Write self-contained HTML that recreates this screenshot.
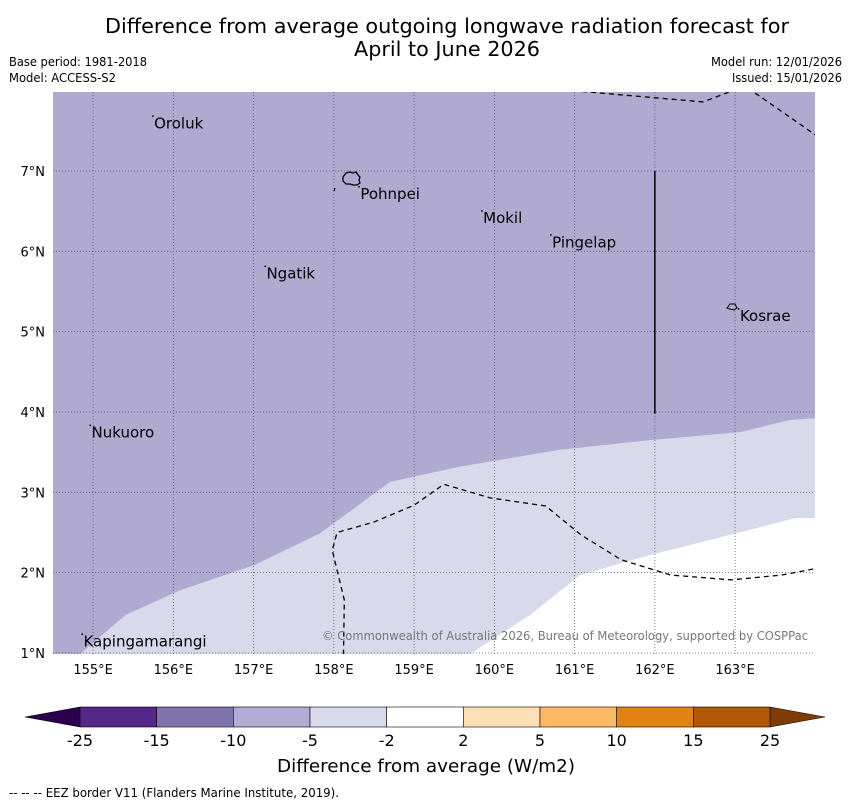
<!DOCTYPE html>
<html><head><meta charset="utf-8"><style>
html,body{margin:0;padding:0;background:#fff;}
svg{display:block;font-family:"DejaVu Sans","Liberation Sans",sans-serif;}
</style></head><body>
<svg id="chart" width="850" height="804" viewBox="0 0 850 804" xmlns="http://www.w3.org/2000/svg">
<text x="447" y="33" font-size="20" text-anchor="middle" textLength="684" lengthAdjust="spacingAndGlyphs">Difference from average outgoing longwave radiation forecast for</text>
<text x="447" y="56" font-size="20" text-anchor="middle" textLength="186" lengthAdjust="spacingAndGlyphs">April to June 2026</text>
<text x="9" y="66" font-size="12" textLength="138" lengthAdjust="spacingAndGlyphs">Base period: 1981-2018</text>
<text x="9" y="82" font-size="12" textLength="107" lengthAdjust="spacingAndGlyphs">Model: ACCESS-S2</text>
<text x="842" y="66" font-size="12" text-anchor="end" textLength="131" lengthAdjust="spacingAndGlyphs">Model run: 12/01/2026</text>
<text x="842" y="82" font-size="12" text-anchor="end" textLength="110" lengthAdjust="spacingAndGlyphs">Issued: 15/01/2026</text>
<defs><clipPath id="mapclip"><rect x="53" y="92" width="762" height="562"/></clipPath></defs>
<g id="map" clip-path="url(#mapclip)"></g>
<g id="axes"></g>
<g id="cbar"></g>
<text x="426" y="772" font-size="18" text-anchor="middle" textLength="298" lengthAdjust="spacingAndGlyphs">Difference from average (W/m2)</text>
<text x="9" y="797" font-size="12" textLength="330" lengthAdjust="spacingAndGlyphs">--  --  -- EEZ border V11 (Flanders Marine Institute, 2019).</text>
</svg>
<script>
const lonTicks=[155,156,157,158,159,160,161,162,163];
const latTicks=[1,2,3,4,5,6,7];
const cbarLevels=[-25,-15,-10,-5,-2,2,5,10,15,25];
const cbarColors=["#542788","#8073ac","#b2abd2","#d8daeb","#ffffff","#fee0b6","#fdb863","#e08214","#b35806"];
const lightBoundaryLon=[154.84,155.4,156.08,157.02,157.83,158.7,159.57,160.82,161.94,163.06,163.68,164.1];
const lightBoundaryLat=[0.99,1.47,1.78,2.1,2.49,3.13,3.32,3.53,3.65,3.75,3.9,3.93];
const whiteBoundaryLon=[159.7,160.44,161.07,161.94,162.94,163.75,164.1];
const whiteBoundaryLat=[0.99,1.47,1.97,2.22,2.47,2.68,2.68];
const eezSouthLon=[158.12,158.13,157.98,158.04,158.5,159,159.37,159.95,160.64,161.08,161.58,162.2,162.95,163.58,164.05];
const eezSouthLat=[0.98,1.66,2.28,2.5,2.63,2.84,3.1,2.93,2.83,2.47,2.16,1.97,1.91,1.97,2.06];
const eezNorthLon=[160.98,162.6,163.05];
const eezNorthLat=[8.0,7.86,8.03];
const eezNEon=[163.25,164.0];
const eezNELat=[7.97,7.45];
const placeNames=["Oroluk","Pohnpei","Mokil","Pingelap","Ngatik","Kosrae","Nukuoro","Kapingamarangi"];
const placeLon=[155.76,158.33,159.86,160.72,157.16,163.06,154.98,154.88];
const placeLat=[7.68,6.8,6.5,6.2,5.81,5.28,3.83,1.23];

const NS="http://www.w3.org/2000/svg";
const X=lon=>53+(lon-154.5)*80.25;
const Y=lat=>171+(7-lat)*80.33;
function mk(tag,attrs,parent){const e=document.createElementNS(NS,tag);for(const k in attrs)e.setAttribute(k,attrs[k]);parent.appendChild(e);return e;}
const map=document.getElementById('map'),axes=document.getElementById('axes'),cbar=document.getElementById('cbar');

let bg=mk('rect',{x:53,y:92,width:762,height:562,fill:'#b0aad1'},map);


function poly(lons,lats){let p=lons.map((l,i)=>X(l)+','+Y(lats[i]));return p;}
let lp=poly(lightBoundaryLon,lightBoundaryLat);lp.push(X(164.1)+','+Y(0.9));lp.push(X(154.8)+','+Y(0.9));
let light=mk('polygon',{points:lp.join(' '),fill:'#d8d9ea'},map);


let wp=poly(whiteBoundaryLon,whiteBoundaryLat);wp.push(X(164.1)+','+Y(0.9));wp.push(X(159.7)+','+Y(0.9));
let white=mk('polygon',{points:wp.join(' '),fill:'#ffffff'},map);



lonTicks.forEach(l=>{let g=mk('line',{x1:X(l),x2:X(l),y1:92,y2:654,stroke:'#555577','stroke-width':0.8,'stroke-dasharray':'1,2'},map);

});
latTicks.forEach(l=>{let g=mk('line',{x1:53,x2:815,y1:Y(l),y2:Y(l),stroke:'#555577','stroke-width':0.8,'stroke-dasharray':'1,2'},map);

});

[[eezSouthLon,eezSouthLat],[eezNorthLon,eezNorthLat],[eezNEon,eezNELat]].forEach(s=>{
let e=mk('polyline',{points:poly(s[0],s[1]).join(' '),fill:'none',stroke:'#000','stroke-width':1.3,'stroke-dasharray':'5,4'},map);

});
let vl=mk('line',{x1:X(162),x2:X(162),y1:Y(7),y2:Y(3.98),stroke:'#000','stroke-width':1.5},map);



let isl=mk('path',{d:'M343,177 l3,-4 l4,-1 l3,1 l3,-1 l2,3 l2,2 l-1,3 l1,3 l-3,2 l-4,0 l-3,-1 l-4,0 l-3,-3 z',fill:'none',stroke:'#000','stroke-width':1.3},map);


let isl2=mk('line',{x1:334,y1:191,x2:335,y2:188,stroke:'#000','stroke-width':1.2},map);


let kos=mk('path',{d:'M727,308 l3,-4 l5,0 l2,4 l-3,2 l-4,-1 z',fill:'none',stroke:'#000','stroke-width':1},map);



placeNames.forEach((n,i)=>{
let d=mk('rect',{x:X(placeLon[i])-2,y:Y(placeLat[i])-1,width:1.5,height:1.5,fill:'#000'},map);


let t=mk('text',{x:X(placeLon[i]),y:Y(placeLat[i])+12,'font-size':15,fill:'#000'},map);
t.textContent=n;

});

let cp=mk('text',{x:808,y:640,'font-size':12,fill:'#777','text-anchor':'end',textLength:486,lengthAdjust:'spacingAndGlyphs'},map);
cp.textContent='© Commonwealth of Australia 2026, Bureau of Meteorology, supported by COSPPac';



lonTicks.forEach(l=>{let t=mk('text',{x:X(l),y:674,'font-size':13,'text-anchor':'middle'},axes);
t.textContent=l+'°E';

});
latTicks.forEach(l=>{let t=mk('text',{x:45,y:Y(l)+5,'font-size':13,'text-anchor':'end'},axes);
t.textContent=l+'°N';

});

const cx0=80,cx1=770,cy=707,ch=20;
const CX=i=>cx0+(cx1-cx0)*i/(cbarLevels.length-1);
let lt=mk('polygon',{points:`${cx0},${cy} ${cx0},${cy+ch} 25,${cy+ch/2}`,fill:'#2d004b',stroke:'#000','stroke-width':0.5},cbar);


let rt=mk('polygon',{points:`${cx1},${cy} ${cx1},${cy+ch} 825,${cy+ch/2}`,fill:'#7f3b08',stroke:'#000','stroke-width':0.5},cbar);


cbarColors.forEach((c,i)=>{let r=mk('rect',{x:CX(i),y:cy,width:CX(i+1)-CX(i),height:ch,fill:c,stroke:'#000','stroke-width':0.6},cbar);

});
cbarLevels.forEach((v,i)=>{let t=mk('text',{x:CX(i),y:746,'font-size':16,'text-anchor':'middle'},cbar);
t.textContent=v;

});
</script>
</body></html>
